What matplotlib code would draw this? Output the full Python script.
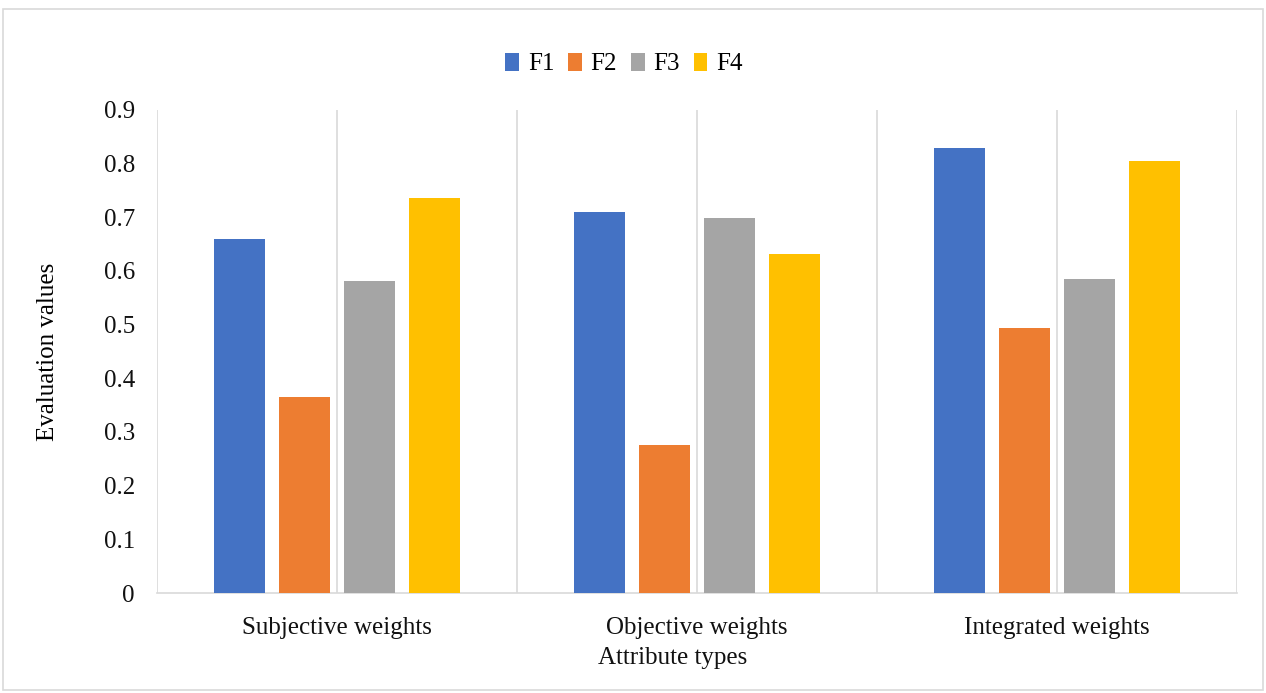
import matplotlib.pyplot as plt
import numpy as np
from matplotlib.patches import Rectangle

plt.rcParams['font.family'] = ['Liberation Serif', 'DejaVu Serif']

categories = ['Subjective weights', 'Objective weights', 'Integrated weights']
series = ['F1', 'F2', 'F3', 'F4']
values = {
    'F1': [0.66, 0.71, 0.83],
    'F2': [0.366, 0.276, 0.494],
    'F3': [0.581, 0.699, 0.585],
    'F4': [0.736, 0.632, 0.805],
}
colors = ['#4472C4', '#ED7D31', '#A5A5A5', '#FFC000']
yticks = [0, 0.1, 0.2, 0.3, 0.4, 0.5, 0.6, 0.7, 0.8, 0.9]

fs = 18

fig = plt.figure(figsize=(12.66, 6.93), dpi=100)
ax = fig.add_axes([157 / 1266, 100 / 693, 1080 / 1266, 483 / 693])

# light frame around the whole chart
fig.patches.append(Rectangle((3 / 1266, 3 / 693), 1260 / 1266, 681 / 693,
                             transform=fig.transFigure, fill=False,
                             edgecolor='#d9d9d9', linewidth=1.2))

x = np.arange(len(categories))
width = 0.142
step = 0.18
for i, s in enumerate(series):
    ax.bar(x + (i - 1.5) * step, values[s], width, color=colors[i],
           label=s, zorder=3)

# vertical lines at category edges and centres
for v in np.arange(-0.5, 2.51, 0.5):
    ax.axvline(v, color='#d9d9d9', linewidth=1.2, zorder=1)

ax.set_xlim(-0.5, 2.5)
ax.set_ylim(0, 0.9)
ax.set_yticks(yticks)
ax.set_yticklabels(['0' if t == 0 else f'{t:.1f}' for t in yticks])
ax.set_xticks(x)
ax.set_xticklabels(categories)
ax.tick_params(axis='both', length=0, labelsize=fs, colors='#111111')
ax.tick_params(axis='x', pad=17)
ax.tick_params(axis='y', pad=16)
for sp in ['top', 'right', 'left']:
    ax.spines[sp].set_visible(False)
ax.spines['bottom'].set_color('#d9d9d9')
ax.spines['bottom'].set_linewidth(1.2)

ax.set_ylabel('Evaluation values', fontsize=fs, labelpad=32)
fig.text(673 / 1266, 1 - 658 / 693, 'Attribute types', fontsize=fs,
         ha='center', va='center', color='#111111')

leg = fig.legend(loc='center', bbox_to_anchor=(624 / 1266, 1 - 64 / 693),
                 ncol=4, frameon=False, fontsize=fs, handlelength=0.55,
                 handleheight=0.75, handletextpad=0.35, columnspacing=0.55)

plt.savefig('out.png', dpi=100)
